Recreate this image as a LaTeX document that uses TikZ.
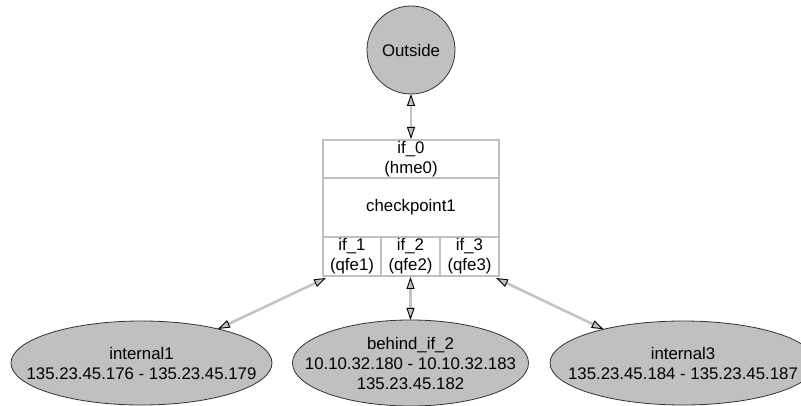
\documentclass[tikz,border=0pt]{standalone}
\usepackage{fontspec}
\setmainfont{Liberation Sans}
\usetikzlibrary{shapes.geometric,arrows.meta}
\definecolor{gvgray}{HTML}{C0C0C0}
\definecolor{edgegray}{HTML}{C4C4C4}
\tikzset{
  lbl/.style={font=\fontsize{16.8}{20}\selectfont, align=center, text=black},
  cell/.style={lbl, draw=gvgray, line width=2pt, rectangle, inner sep=0pt},
  blob/.style={fill=gvgray, draw=black!80, line width=0.8pt, inner sep=0pt, outer sep=0pt},
  gvtip/.style={},
  link/.style={draw=edgegray, line width=2.6pt,
    {Triangle[length=12pt,width=8pt,fill=gvgray,color=black,line width=0.9pt]}-{Triangle[length=12pt,width=8pt,fill=gvgray,color=black,line width=0.9pt]}}
}
\begin{document}
\begin{tikzpicture}[x=1pt,y=-1pt]
\useasboundingbox (0,0) rectangle (801,406);
\node[blob, circle, minimum size=88pt] (out) at (411,50) {};
\node[lbl] (outt) at (out.center) {Outside};
\node[cell, minimum width=176pt, minimum height=38pt] (if0) at (411,159) {if\_0\\(hme0)};
\node[cell, minimum width=176pt, minimum height=59pt] (cp) at (411,207.5) {checkpoint1};
\node[cell, minimum width=58pt, minimum height=39pt] (if1) at (352,256.5) {if\_1\\(qfe1)};
\node[cell, minimum width=59pt, minimum height=39pt] (if2) at (410.5,256.5) {if\_2\\(qfe2)};
\node[cell, minimum width=59pt, minimum height=39pt] (if3) at (469.5,256.5) {if\_3\\(qfe3)};
\node[blob, ellipse, minimum width=261pt, minimum height=84pt] (int1) at (141.5,363) {};
\node[lbl] (int1t) at (int1.center) {internal1\\135.23.45.176 - 135.23.45.179};
\node[blob, ellipse, minimum width=236pt, minimum height=86pt] (bh2) at (410.5,363) {};
\node[lbl] (bh2t) at (bh2.center) {behind\_if\_2\\10.10.32.180 - 10.10.32.183\\135.23.45.182};
\node[blob, ellipse, minimum width=266pt, minimum height=84pt] (int3) at (683,363) {};
\node[lbl] (int3t) at (int3.center) {internal3\\135.23.45.184 - 135.23.45.187};
\path[link] (out.south) -- (if0.north);
\path[link] ([xshift=4pt,yshift=-1pt]if1.south west) -- (int1.24);
\path[link] (if2.south) -- (bh2.north);
\path[link] ([xshift=-4pt,yshift=-1pt]if3.south east) -- (int3.157);
\end{tikzpicture}
\end{document}
